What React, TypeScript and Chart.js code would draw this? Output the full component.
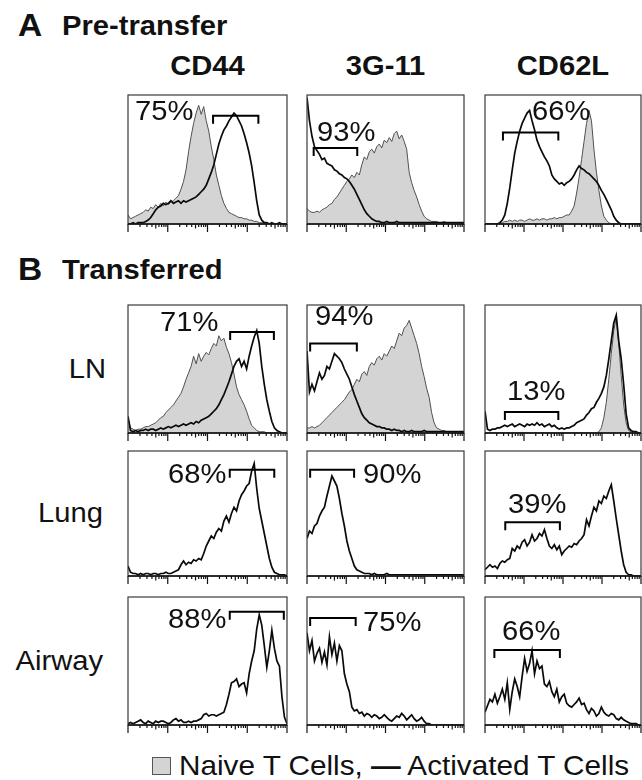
import React, { useEffect, useRef } from "react";
import { Chart, registerables } from "chart.js";

Chart.register(...registerables);

// ---------------- data ----------------
const DECADES = 4; // log axis, 10^0 .. 10^4
const MARKERS = ["CD44", "3G-11", "CD62L"];
const ROW_LABELS = ["", "LN", "Lung", "Airway"];
const PERCENTS = [
  ["75%", "93%", "66%"],
  ["71%", "94%", "13%"],
  ["68%", "90%", "39%"],
  ["88%", "75%", "66%"],
];
// gate limits in decades, gate level in % of panel height
const GATE_LO = [
  [2.14, 0.17, 0.46],
  [2.57, 0.08, 0.51],
  [2.56, 0.08, 0.52],
  [2.56, 0.08, 0.24],
];
const GATE_HI = [
  [3.28, 1.28, 1.88],
  [3.67, 1.27, 1.88],
  [3.68, 1.2, 1.92],
  [3.92, 1.24, 1.92],
];
const GATE_LEVEL = [
  [84, 59, 71],
  [79, 70, 16.5],
  [85, 85, 43],
  [88.5, 83.5, 58.6],
];

// Pre-transfer
const A_CD44_NAIVE = [
  7, 4, 5, 6, 7, 8, 9, 11, 10, 13, 12, 15, 13, 16, 14, 17,
  15, 17, 18, 20, 22, 27, 33, 42, 56, 68, 78, 86, 92, 85, 91, 80,
  72, 60, 50, 38, 30, 22, 16, 12, 9, 8, 7, 6, 5, 5, 4, 4,
  3, 3, 2, 2, 1, 1, 1, 1, 0, 0, 0, 0, 0, 0, 0, 0,
];
const A_CD44_ACT = [
  0, 0, 1, 0, 1, 1, 1, 2, 3, 5, 8, 11, 13, 14, 16, 15,
  16, 18, 16, 17, 18, 16, 18, 17, 18, 19, 20, 21, 23, 25, 27, 30,
  35, 40, 46, 54, 62, 68, 73, 76, 80, 83, 86, 84, 80, 76, 70, 63,
  55, 45, 32, 18, 7, 3, 1, 1, 0, 1, 0, 0, 1, 0, 0, 0,
];
const A_3G11_NAIVE = [
  12, 10, 9, 9, 10, 9, 11, 12, 13, 15, 16, 19, 21, 24, 27, 30,
  33, 35, 38, 36, 40, 38, 46, 52, 50, 56, 58, 55, 60, 62, 59, 65,
  63, 67, 64, 70, 72, 66, 69, 64, 58, 40, 32, 26, 21, 15, 10, 6,
  4, 3, 2, 2, 2, 1, 1, 2, 1, 1, 1, 1, 1, 1, 1, 0,
];
const A_3G11_ACT = [
  98, 80, 68, 60, 57, 54, 50, 51, 47, 46, 45, 42, 41, 39, 38, 36,
  35, 33, 30, 27, 23, 19, 15, 11, 8, 6, 4, 3, 2, 2, 1, 1,
  2, 1, 1, 1, 2, 1, 1, 1, 1, 1, 1, 1, 1, 1, 1, 1,
  1, 1, 1, 1, 1, 1, 1, 1, 1, 1, 1, 1, 1, 1, 1, 1,
];
const A_CD62L_NAIVE = [
  0, 0, 0, 0, 0, 0, 0, 1, 2, 2, 3, 2, 3, 2, 3, 3,
  2, 3, 4, 3, 3, 4, 3, 4, 4, 3, 4, 4, 5, 4, 5, 5,
  6, 7, 7, 10, 14, 24, 36, 50, 64, 78, 88, 80, 58, 40, 26, 14,
  6, 3, 1, 0, 0, 0, 0, 0, 0, 0, 0, 0, 0, 0, 0, 0,
];
const A_CD62L_ACT = [
  0, 0, 0, 0, 0, 0, 1, 3, 7, 16, 28, 42, 55, 64, 72, 78,
  82, 86, 88, 80, 73, 65, 60, 56, 52, 49, 45, 38, 35, 33, 31, 32,
  30, 32, 33, 35, 38, 42, 45, 43, 42, 40, 39, 37, 35, 33, 30, 26,
  23, 19, 15, 11, 6, 3, 1, 0, 0, 0, 0, 0, 0, 0, 0, 0,
];

// Transferred: LN
const LN_CD44_NAIVE = [
  12, 4, 3, 2, 3, 3, 4, 5, 5, 6, 7, 8, 10, 12, 13, 16,
  18, 20, 22, 25, 28, 31, 36, 42, 47, 52, 60, 54, 62, 56, 60, 63,
  61, 66, 70, 68, 76, 72, 74, 67, 62, 55, 46, 36, 30, 26, 22, 17,
  11, 6, 4, 2, 1, 1, 1, 0, 0, 0, 0, 0, 0, 0, 0, 0,
];
const LN_CD44_ACT = [
  13, 2, 1, 2, 1, 2, 2, 3, 2, 3, 3, 2, 3, 4, 3, 4,
  5, 4, 5, 6, 5, 6, 7, 6, 7, 8, 7, 9, 8, 10, 11, 12,
  13, 15, 17, 19, 22, 26, 30, 35, 40, 46, 52, 56, 58, 52, 56, 50,
  60, 68, 75, 80, 70, 52, 38, 26, 17, 9, 4, 2, 1, 0, 0, 0,
];
const LN_3G11_NAIVE = [
  4, 4, 5, 4, 5, 6, 8, 10, 12, 14, 16, 18, 20, 22, 24, 26,
  29, 32, 34, 38, 42, 40, 46, 48, 45, 52, 55, 53, 58, 60, 57, 62,
  60, 64, 68, 66, 72, 78, 76, 82, 84, 88, 82, 76, 70, 62, 52, 44,
  35, 28, 16, 8, 4, 3, 2, 2, 1, 1, 1, 1, 0, 0, 0, 0,
];
const LN_3G11_ACT = [
  64, 32, 38, 33, 40, 47, 42, 45, 52, 50, 56, 62, 60, 58, 55, 50,
  46, 42, 36, 30, 25, 20, 15, 12, 10, 8, 7, 6, 5, 5, 4, 4,
  3, 3, 2, 3, 2, 2, 1, 2, 1, 1, 2, 1, 1, 1, 1, 2,
  1, 1, 1, 1, 1, 1, 1, 1, 1, 1, 1, 1, 1, 1, 1, 1,
];
const LN_CD62L_NAIVE = [
  0, 0, 0, 0, 0, 0, 0, 0, 0, 0, 0, 0, 0, 0, 0, 0,
  0, 0, 0, 0, 0, 0, 0, 0, 0, 0, 0, 0, 0, 0, 0, 0,
  0, 0, 0, 0, 0, 0, 0, 0, 0, 0, 0, 0, 0, 0, 1, 4,
  12, 24, 42, 62, 80, 90, 70, 45, 22, 8, 2, 1, 0, 0, 0, 0,
];
const LN_CD62L_ACT = [
  17, 3, 2, 3, 3, 4, 4, 5, 6, 5, 6, 7, 5, 6, 7, 6,
  5, 7, 6, 7, 6, 8, 6, 7, 5, 6, 7, 5, 6, 4, 3, 4,
  3, 4, 4, 5, 6, 8, 9, 10, 11, 14, 16, 19, 20, 24, 27, 31,
  36, 45, 58, 72, 86, 92, 72, 58, 38, 15, 4, 2, 1, 1, 0, 0,
];

// Transferred: Lung
const LUNG_CD44_ACT = [
  8, 3, 2, 2, 1, 2, 1, 2, 2, 1, 2, 2, 1, 2, 2, 3,
  2, 2, 3, 4, 5, 9, 12, 9, 11, 10, 13, 12, 14, 13, 18, 24,
  28, 32, 30, 35, 38, 36, 44, 48, 43, 50, 55, 52, 60, 65, 68, 72,
  74, 84, 90, 70, 54, 44, 34, 24, 14, 7, 3, 2, 1, 1, 1, 0,
];
const LUNG_3G11_ACT = [
  30, 36, 34, 40, 42, 48, 52, 55, 64, 72, 80, 76, 72, 62, 50, 40,
  28, 20, 14, 8, 5, 4, 3, 2, 2, 2, 1, 2, 1, 1, 1, 1,
  2, 1, 1, 1, 1, 1, 1, 1, 1, 1, 1, 1, 1, 1, 1, 1,
  1, 1, 1, 1, 1, 1, 1, 1, 1, 1, 1, 1, 1, 1, 1, 1,
];
const LUNG_CD62L_ACT = [
  5, 7, 9, 7, 8, 6, 10, 12, 11, 13, 14, 22, 20, 24, 22, 27,
  29, 24, 27, 33, 28, 30, 34, 32, 37, 30, 24, 22, 25, 21, 24, 17,
  20, 22, 24, 23, 26, 25, 28, 30, 33, 45, 40, 48, 55, 52, 60, 58,
  64, 62, 68, 73, 60, 46, 33, 20, 9, 3, 1, 1, 0, 0, 0, 0,
];

// Transferred: Airway
const AIRWAY_CD44_ACT = [
  1, 2, 1, 2, 3, 4, 2, 1, 3, 2, 1, 3, 2, 3, 3, 2,
  1, 2, 4, 5, 3, 4, 2, 2, 3, 2, 3, 3, 4, 5, 8, 9,
  7, 8, 8, 7, 8, 9, 10, 16, 24, 33, 34, 36, 30, 32, 33, 25,
  40, 50, 58, 75, 86, 78, 62, 45, 58, 74, 60, 50, 46, 22, 6, 1,
];
const AIRWAY_3G11_ACT = [
  72, 58, 66, 50, 56, 60, 49, 57, 47, 69, 55, 64, 50, 62, 58, 40,
  32, 26, 14, 11, 12, 9, 10, 7, 9, 8, 6, 8, 7, 5, 6, 8,
  6, 4, 3, 5, 7, 6, 9, 7, 4, 6, 8, 5, 3, 4, 6, 3,
  1, 1, 0, 0, 0, 0, 0, 0, 0, 0, 0, 0, 0, 0, 0, 0,
];
const AIRWAY_CD62L_ACT = [
  10, 15, 20, 18, 24, 17, 22, 28, 20, 33, 12, 26, 36, 30, 22, 38,
  52, 42, 48, 58, 40, 50, 44, 46, 32, 30, 34, 26, 22, 28, 18, 22,
  24, 17, 15, 14, 16, 18, 21, 16, 17, 12, 9, 13, 11, 7, 9, 14,
  10, 8, 7, 9, 8, 5, 4, 6, 4, 3, 2, 1, 1, 1, 0, 0,
];

const NAIVE: (number[] | null)[][] = [
  [A_CD44_NAIVE, A_3G11_NAIVE, A_CD62L_NAIVE],
  [LN_CD44_NAIVE, LN_3G11_NAIVE, LN_CD62L_NAIVE],
  [null, null, null],
  [null, null, null],
];
const ACTIVATED: number[][][] = [
  [A_CD44_ACT, A_3G11_ACT, A_CD62L_ACT],
  [LN_CD44_ACT, LN_3G11_ACT, LN_CD62L_ACT],
  [LUNG_CD44_ACT, LUNG_3G11_ACT, LUNG_CD62L_ACT],
  [AIRWAY_CD44_ACT, AIRWAY_3G11_ACT, AIRWAY_CD62L_ACT],
];

// ---------------- layout (styles) ----------------
const FONT = '"Liberation Sans", Arial, Helvetica, sans-serif';
const STRETCH = 1.08; // the figure's lettering is slightly wide
const TXT = 27; // text size
const COL_LEFT = [128, 307, 485];
const COL_WIDTH = [159, 157, 156];
const ROW_TOP = [95, 305, 451, 597];
const ROW_HEIGHT = [129, 128, 125, 128];
// cap-top positions of the percentage labels
const PCT_POS = [
  [[135, 102], [317, 123], [532, 102]],
  [[160, 313], [315, 307], [507, 382]],
  [[168, 465], [363, 465], [508, 495]],
  [[168, 610], [363, 613], [502, 622]],
];
const PAD = 2;
const TICK_SPACE = 12;

type PanelProps = {
  naive: number[] | null;
  act: number[];
  lo: number;
  hi: number;
  level: number;
  left: number;
  top: number;
  width: number;
  height: number;
};

function Panel({ naive, act, lo, hi, level, left, top, width, height }: PanelProps) {
  const ref = useRef<HTMLCanvasElement | null>(null);
  useEffect(() => {
    if (!ref.current) return;
    const toXY = (arr: number[]) =>
      arr.map((v, i) => ({ x: (i * DECADES) / (arr.length - 1), y: v }));
    const datasets: any[] = [
      {
        label: "Activated T Cells",
        data: toXY(act),
        borderColor: "#0a0a0a",
        borderWidth: 1.7,
        pointRadius: 0,
        fill: false,
        tension: 0,
        order: 1,
      },
    ];
    if (naive) {
      datasets.push({
        label: "Naive T Cells",
        data: toXY(naive),
        borderColor: "#505050",
        borderWidth: 1,
        backgroundColor: "#d4d4d4",
        fill: "origin",
        pointRadius: 0,
        tension: 0,
        order: 2,
      });
    }
    const framePlugin = {
      id: "flowFrame",
      afterDatasetsDraw(chart: any) {
        const { ctx, chartArea, scales } = chart;
        const { left: l, right: r, top: t, bottom: b } = chartArea;
        const x = scales.x;
        const y = scales.y;
        ctx.save();
        // gate bracket
        const gx1 = x.getPixelForValue(lo);
        const gx2 = x.getPixelForValue(hi);
        const gy = y.getPixelForValue(level);
        ctx.strokeStyle = "#000";
        ctx.lineWidth = 2;
        ctx.beginPath();
        ctx.moveTo(gx1, gy + 8);
        ctx.lineTo(gx1, gy);
        ctx.lineTo(gx2, gy);
        ctx.lineTo(gx2, gy + 8);
        ctx.stroke();
        // frame
        ctx.strokeStyle = "#3a3a3a";
        ctx.lineWidth = 1.2;
        ctx.strokeRect(l, t, r - l, b - t);
        // axis line
        ctx.strokeStyle = "#111";
        ctx.lineWidth = 1.6;
        ctx.beginPath();
        ctx.moveTo(l, b);
        ctx.lineTo(r, b);
        ctx.stroke();
        // log ticks
        ctx.lineWidth = 1.2;
        for (let d = 0; d <= DECADES; d++) {
          for (let k = 1; k <= 9; k++) {
            if (d === DECADES && k > 1) break;
            const px = x.getPixelForValue(d + Math.log10(k));
            const len = k === 1 ? 8 : k === 5 ? 4.5 : 3;
            ctx.beginPath();
            ctx.moveTo(px, b);
            ctx.lineTo(px, b + len);
            ctx.stroke();
          }
        }
        ctx.restore();
      },
    };
    const chart = new Chart(ref.current, {
      type: "line",
      data: { datasets },
      options: {
        animation: false,
        responsive: false,
        maintainAspectRatio: false,
        events: [],
        layout: { padding: { left: PAD, right: PAD, top: PAD, bottom: TICK_SPACE } },
        plugins: { legend: { display: false }, tooltip: { enabled: false } },
        scales: {
          x: { type: "linear", min: 0, max: DECADES, display: false },
          y: { min: 0, max: 100, display: false },
        },
      },
      plugins: [framePlugin],
    } as any);
    return () => chart.destroy();
  }, [naive, act, lo, hi, level]);
  return (
    <canvas
      ref={ref}
      width={width + 2 * PAD}
      height={height + PAD + TICK_SPACE}
      style={{ position: "absolute", left: left - PAD, top: top - PAD }}
    />
  );
}

const txt = (extra: React.CSSProperties, origin = "left center"): React.CSSProperties => ({
  position: "absolute",
  lineHeight: 1,
  whiteSpace: "nowrap",
  fontFamily: FONT,
  color: "#111",
  transform: `scaleX(${STRETCH})`,
  transformOrigin: origin,
  ...extra,
});

// top of a line-height:1 box whose baseline should sit at `baseline`
const topFor = (baseline: number, size: number) => baseline - 0.8465 * size;
const capTopOffset = (size: number) => 0.1305 * size;

export default function App() {
  useEffect(() => {
    document.body.style.margin = "0";
  }, []);
  const legendSize = 27.5;
  return (
    <div
      style={{
        position: "relative",
        width: 642,
        height: 780,
        overflow: "hidden",
        background: "#fff",
        fontFamily: FONT,
      }}
    >
      <div style={txt({ left: 18, top: topFor(36, 31), fontSize: 31, fontWeight: 700 })}>A</div>
      <div style={txt({ left: 62, top: topFor(36, TXT), fontSize: TXT, fontWeight: 700 })}>
        Pre-transfer
      </div>
      {MARKERS.map((m, c) => (
        <div
          key={m}
          style={txt(
            {
              left: COL_LEFT[c],
              width: COL_WIDTH[c],
              top: topFor(76, TXT),
              fontSize: TXT,
              fontWeight: 700,
              textAlign: "center",
            },
            "center center"
          )}
        >
          {m}
        </div>
      ))}
      <div style={txt({ left: 18, top: topFor(280, 31), fontSize: 31, fontWeight: 700 })}>B</div>
      <div style={txt({ left: 62, top: topFor(280, TXT), fontSize: TXT, fontWeight: 700 })}>
        Transferred
      </div>
      {ROW_LABELS.map((lab, r) =>
        lab ? (
          <div
            key={lab}
            style={txt(
              {
                left: 0,
                width: r === 1 ? 106 : 103,
                textAlign: "right",
                top: ROW_TOP[r] + ROW_HEIGHT[r] / 2 + 0.358 * TXT - 0.8465 * TXT,
                fontSize: TXT,
              },
              "right center"
            )}
          >
            {lab}
          </div>
        ) : null
      )}
      {ACTIVATED.map((rowArr, r) =>
        rowArr.map((act, c) => (
          <Panel
            key={`p${r}${c}`}
            naive={NAIVE[r][c]}
            act={act}
            lo={GATE_LO[r][c]}
            hi={GATE_HI[r][c]}
            level={GATE_LEVEL[r][c]}
            left={COL_LEFT[c]}
            top={ROW_TOP[r]}
            width={COL_WIDTH[c]}
            height={ROW_HEIGHT[r]}
          />
        ))
      )}
      {PERCENTS.map((rowArr, r) =>
        rowArr.map((p, c) => (
          <div
            key={`t${r}${c}`}
            style={txt({
              left: PCT_POS[r][c][0],
              top: PCT_POS[r][c][1] - capTopOffset(TXT),
              fontSize: TXT,
            })}
          >
            {p}
          </div>
        ))
      )}
      <div
        style={{
          position: "absolute",
          left: 152,
          top: 757,
          width: 17,
          height: 16,
          background: "#d4d4d4",
          border: "1px solid #555",
        }}
      />
      <div style={txt({ left: 179, top: topFor(775, legendSize), fontSize: legendSize })}>
        Naive T Cells, <span style={{ fontWeight: 700 }}>—</span> Activated T Cells
      </div>
    </div>
  );
}
